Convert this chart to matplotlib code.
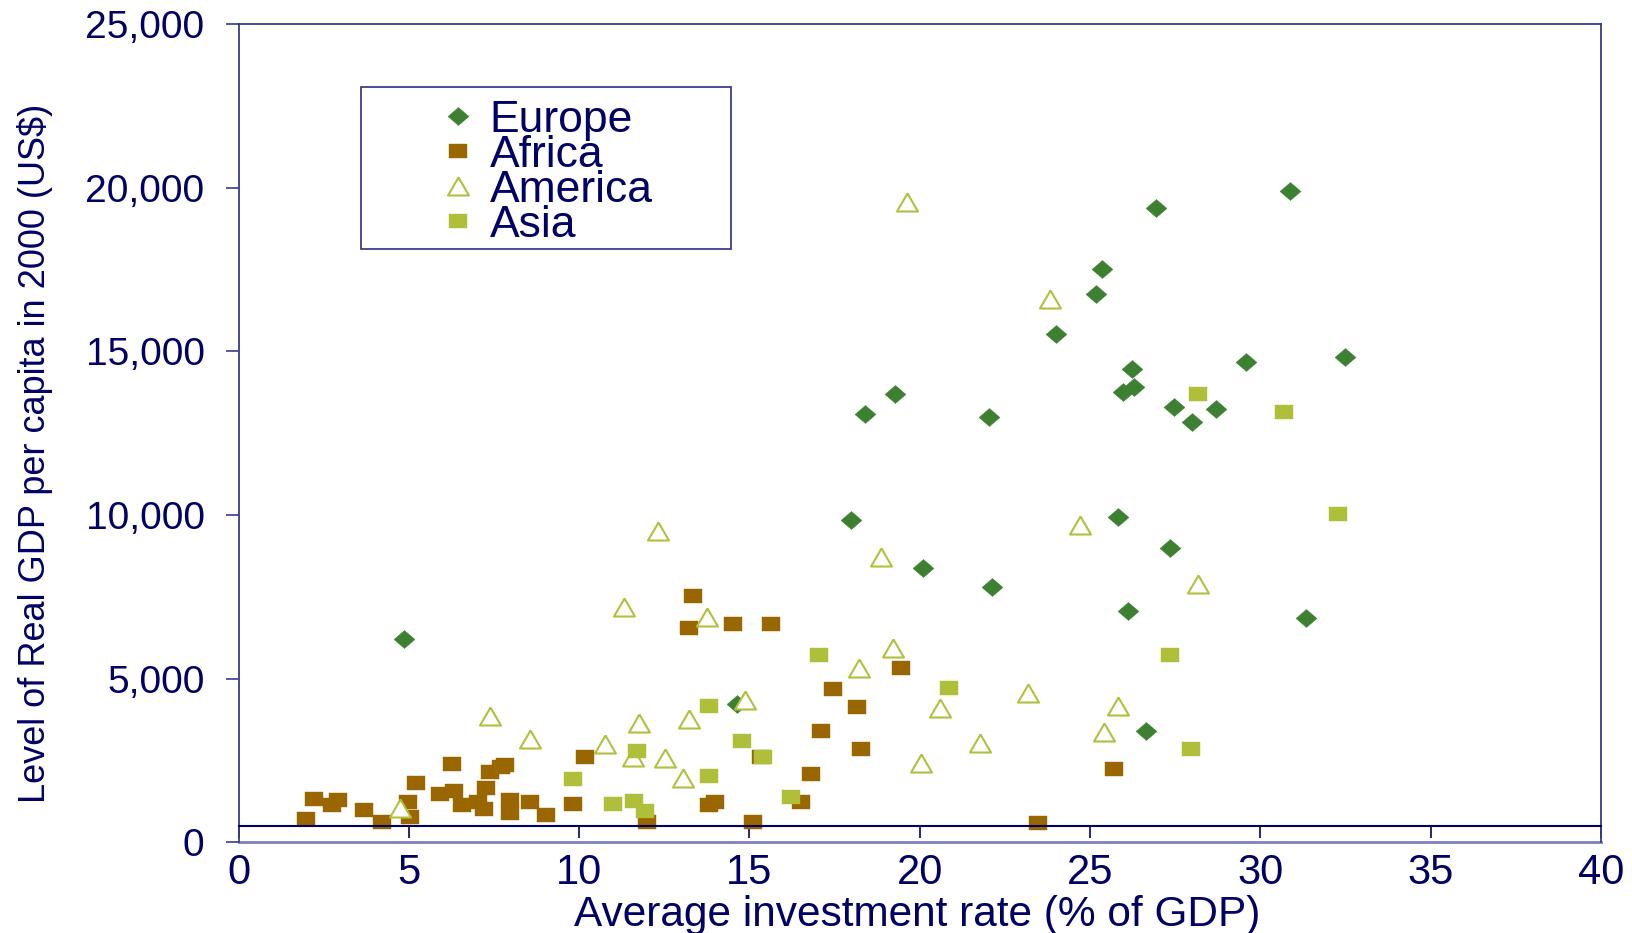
import matplotlib
matplotlib.use("Agg")
import matplotlib.pyplot as plt
from matplotlib.patches import Rectangle
from matplotlib.ticker import StrMethodFormatter

plt.rcParams['font.family'] = ['Liberation Sans', 'DejaVu Sans']

navy = '#000066'

# investment rate (% of GDP) and real GDP per capita in 2000 (US$)
europe_x = [4.86, 14.63, 17.97, 18.40, 19.28, 20.09, 22.04, 22.11, 23.99, 25.17,
            25.35, 26.93, 30.87, 26.23, 25.97, 26.29, 27.46, 27.99, 28.70, 29.58,
            32.47, 25.81, 27.34, 26.11, 31.35, 26.64]
europe_y = [6200, 4220, 9850, 13090, 13700, 8370, 12990, 7810, 15530, 16740,
            17500, 19380, 19890, 14460, 13750, 13900, 13300, 12850, 13250, 14660,
            14820, 9950, 8990, 7060, 6860, 3400]

africa_x = [1.97, 2.21, 2.74, 2.91, 3.68, 4.21, 4.97, 5.03, 5.21, 5.92,
            6.27, 6.32, 6.56, 7.02, 7.20, 7.28, 7.39, 7.71, 7.82, 7.98,
            7.98, 8.56, 9.04, 9.83, 10.16, 11.98, 13.22, 13.33, 14.51, 15.62,
            13.80, 13.98, 15.11, 15.33, 16.50, 16.81, 17.10, 17.45, 18.16, 18.28,
            19.45, 25.69, 23.46]
africa_y = [720, 1335, 1140, 1290, 990, 630, 1220, 770, 1800, 1485,
            2400, 1580, 1140, 1240, 1030, 1650, 2160, 2310, 2360, 1290,
            890, 1240, 825, 1170, 2600, 630, 6560, 7520, 6660, 6660,
            1140, 1220, 630, 2620, 1240, 2090, 3410, 4680, 4125, 2850,
            5330, 2240, 580]

america_x = [4.75, 7.39, 8.57, 10.76, 11.58, 11.76, 12.51, 13.05, 13.22, 11.33,
             12.32, 13.75, 14.86, 18.22, 18.86, 19.22, 19.64, 20.05, 20.58, 21.76,
             23.18, 23.82, 24.70, 25.40, 25.82, 28.17]
america_y = [1060, 3860, 3150, 2990, 2620, 3650, 2590, 1975, 3760, 7200,
             9520, 6890, 4350, 5320, 8720, 5930, 19570, 2430, 4095, 3025,
             4550, 16590, 9690, 3380, 4165, 7900]

asia_x = [9.83, 10.98, 11.62, 11.69, 11.93, 13.81, 13.81, 14.78, 15.39, 16.22,
          17.04, 20.86, 27.36, 27.95, 28.18, 30.70, 32.29]
asia_y = [1945, 1170, 1270, 2800, 965, 4175, 2025, 3105, 2615, 1395,
          5720, 4725, 5730, 2850, 13700, 13150, 10030]

x_ticks = [0, 5, 10, 15, 20, 25, 30, 35, 40]
y_ticks = [0, 5000, 10000, 15000, 20000, 25000]

# slightly wide markers, like the original
diamond = [(-1, 0), (0, 0.86), (1, 0), (0, -0.86), (-1, 0)]
square = [(-1, -0.8), (1, -0.8), (1, 0.8), (-1, 0.8), (-1, -0.8)]
triangle = [(0, 0.86), (-1, -0.86), (1, -0.86), (0, 0.86)]

fig = plt.figure(figsize=(16.32, 9.33), dpi=100)
ax = fig.add_axes([238.5 / 1632, 1 - 842.3 / 933, (1601 - 238.5) / 1632, (842.3 - 24) / 933])

ax.plot(europe_x, europe_y, ls='none', marker=diamond, ms=15.1, mfc='#3D8032', mec='#3D8032', mew=0.3, label='Europe')
ax.plot(africa_x, africa_y, ls='none', marker=square, ms=12.4, mfc='#996600', mec='#996600', mew=0.3, label='Africa')
ax.plot(america_x, america_y, ls='none', marker=triangle, ms=15.1, mfc='white', mec='#B2C03E', mew=1.5, label='America')
ax.plot(asia_x, asia_y, ls='none', marker=square, ms=12.4, mfc='#B0BF3A', mec='#B0BF3A', mew=0.3, label='Asia')

ax.set_xlim(0, 40)
ax.set_ylim(0, 25000)
ax.set_xticks(x_ticks)
ax.set_yticks(y_ticks)
ax.yaxis.set_major_formatter(StrMethodFormatter('{x:,.0f}'))

# frame and the x axis crossing at 500
frame = '#3A3A8C'
for s in ['top', 'right', 'left']:
    ax.spines[s].set_color(frame)
    ax.spines[s].set_linewidth(1.3)
ax.spines['bottom'].set_position(('data', 500))
ax.spines['bottom'].set_color(navy)
ax.spines['bottom'].set_linewidth(1.5)
ax.axhline(0, color='#8080C0', lw=2, clip_on=False)

ax.tick_params(axis='x', direction='out', length=8.6, width=1.2, color=navy,
               pad=11, labelsize=30, labelcolor=navy)
ax.tick_params(axis='y', direction='out', length=9.4, width=1.2, color=frame,
               pad=15, labelsize=28, labelcolor=navy)

fig.text(35.4 / 1632, 1 - 453 / 933, 'Level of Real GDP per capita in 2000 (US$)',
         rotation=90, ha='center', va='center', fontsize=26, color=navy)
fig.text(917.5 / 1632, 1 - 915 / 933, 'Average investment rate (% of GDP)',
         ha='center', va='center', fontsize=30.5, color=navy)

leg = ax.legend(loc='upper left', bbox_to_anchor=(434 / 1632, 1 - 100 / 933),
                bbox_transform=fig.transFigure, frameon=False, borderaxespad=0,
                borderpad=0, handlelength=1.1, handletextpad=0.15,
                labelspacing=-0.135, fontsize=32, labelcolor=navy)
fig.patches.append(Rectangle((361 / 1632, 1 - 249 / 933), 370 / 1632, 162 / 933,
                             transform=fig.transFigure, fill=False,
                             edgecolor='#2E2E80', lw=1.2))

fig.savefig('out.png', dpi=100)
